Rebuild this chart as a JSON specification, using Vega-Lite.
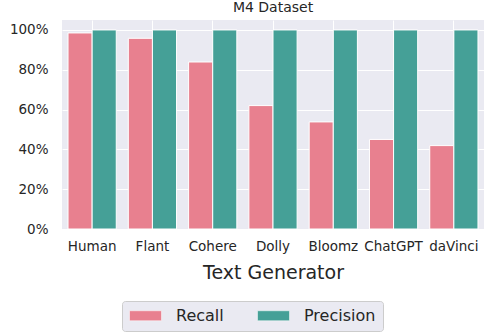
{
  "$schema": "https://vega.github.io/schema/vega-lite/v6.json",
  "width": 422,
  "height": 209,
  "autosize": {"type": "none"},
  "padding": {"left": 62, "top": 20, "right": 10, "bottom": 103},
  "background": "white",
  "title": {"text": "M4 Dataset", "font": "DejaVu Sans", "fontSize": 14, "fontWeight": "normal", "color": "#262626", "anchor": "middle", "offset": 5},
  "config": {
    "view": {"fill": "#eaeaf2", "stroke": null},
    "font": "DejaVu Sans"
  },
  "data": {
    "values": [
      {"gen": "Human", "metric": "Recall", "value": 0.985},
      {"gen": "Human", "metric": "Precision", "value": 1.0},
      {"gen": "Flant", "metric": "Recall", "value": 0.958},
      {"gen": "Flant", "metric": "Precision", "value": 1.0},
      {"gen": "Cohere", "metric": "Recall", "value": 0.839},
      {"gen": "Cohere", "metric": "Precision", "value": 1.0},
      {"gen": "Dolly", "metric": "Recall", "value": 0.62},
      {"gen": "Dolly", "metric": "Precision", "value": 1.0},
      {"gen": "Bloomz", "metric": "Recall", "value": 0.538},
      {"gen": "Bloomz", "metric": "Precision", "value": 1.0},
      {"gen": "ChatGPT", "metric": "Recall", "value": 0.45},
      {"gen": "ChatGPT", "metric": "Precision", "value": 1.0},
      {"gen": "daVinci", "metric": "Recall", "value": 0.419},
      {"gen": "daVinci", "metric": "Precision", "value": 1.0}
    ]
  },
  "mark": {"type": "bar", "stroke": "white", "strokeWidth": 1},
  "encoding": {
    "x": {
      "field": "gen", "type": "nominal", "sort": null,
      "scale": {"paddingInner": 0.2, "paddingOuter": 0.1},
      "axis": {
        "title": "Text Generator", "titleFontSize": 19, "titleFontWeight": "normal", "titleColor": "#262626", "titlePadding": 11,
        "labelAngle": 0, "labelFontSize": 13.5, "labelColor": "#262626", "labelPadding": 10,
        "ticks": false, "domain": false,
        "grid": true, "gridColor": "white", "gridWidth": 1, "bandPosition": 0.5
      }
    },
    "xOffset": {"field": "metric", "type": "nominal", "sort": ["Recall", "Precision"], "scale": {"paddingInner": 0, "paddingOuter": 0}},
    "y": {
      "field": "value", "type": "quantitative",
      "scale": {"domain": [0, 1.05], "nice": false},
      "axis": {
        "title": null, "format": ".0%", "values": [0, 0.2, 0.4, 0.6, 0.8, 1.0],
        "labelFontSize": 13.5, "labelColor": "#262626", "labelPadding": 14,
        "ticks": false, "domain": false,
        "grid": true, "gridColor": "white", "gridWidth": 1
      }
    },
    "color": {
      "field": "metric", "type": "nominal", "sort": ["Recall", "Precision"],
      "scale": {"domain": ["Recall", "Precision"], "range": ["#e8808f", "#45a097"]},
      "legend": {
        "title": null, "orient": "none", "direction": "horizontal",
        "legendX": 60, "legendY": 281,
        "symbolType": "M-1,-0.3125H1V0.3125H-1Z", "symbolSize": 1024,
        "symbolStrokeColor": "white", "symbolStrokeWidth": 0.5,
        "clipHeight": 15,
        "labelFontSize": 16, "labelColor": "#262626", "labelOffset": 14,
        "columnPadding": 33, "padding": 7,
        "fillColor": "#eaeaf2", "strokeColor": "#cccccc", "cornerRadius": 3
      }
    }
  }
}
